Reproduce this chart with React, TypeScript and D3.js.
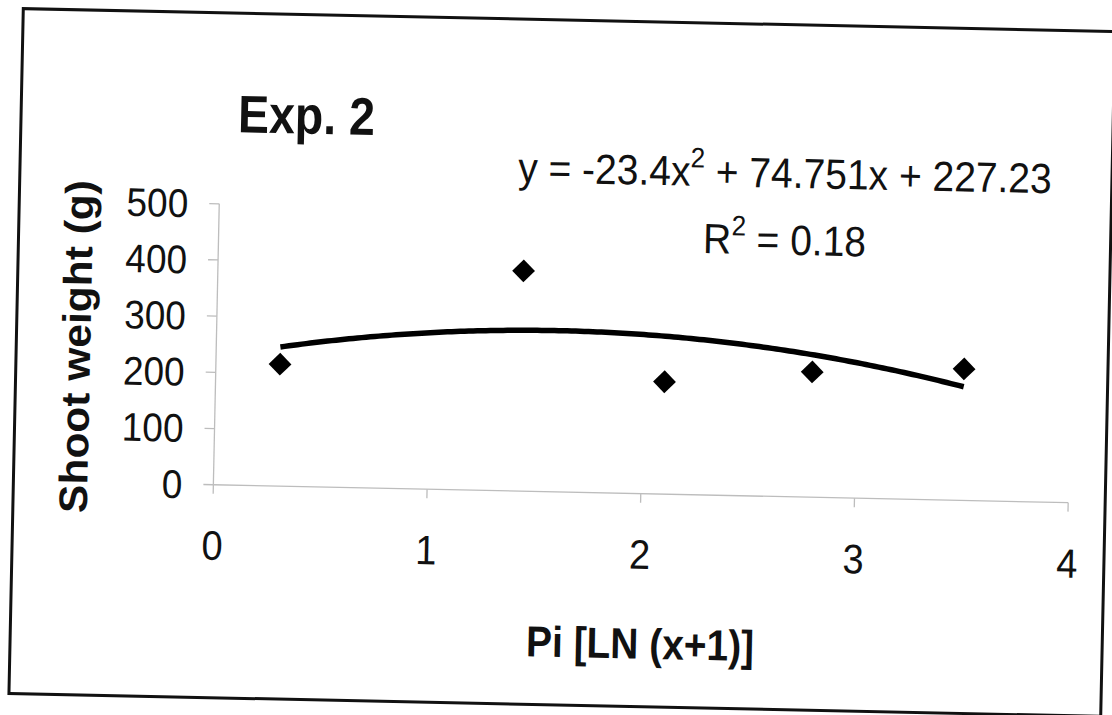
import React from "react";
import * as d3 from "d3";

// ---- data ----
const xValues = [0.3, 1.43, 2.1, 2.79, 3.5];
const yValues = [217, 392, 200, 223, 234];
const xTicks = [0, 1, 2, 3, 4];
const yTicks = [0, 100, 200, 300, 400, 500];
const trendA = -23.4;
const trendB = 74.751;
const trendC = 227.23;
const rSquared = "0.18";
const titleText = "Exp. 2";
const yTitle = "Shoot weight (g)";
const xTitle = "Pi [LN (x+1)]";

const W = 1112;
const H = 715;
const FONT = "'Liberation Sans', Arial, Helvetica, sans-serif";
const SY = 1.08; // scanned text looks slightly taller than wide

function T(props: any) {
  const { x, y, rot, children, ...rest } = props;
  const r = rot ? ` rotate(${rot})` : "";
  return (
    <text transform={`translate(${x},${y})${r} scale(1,${SY})`} fill="#111" {...rest}>
      {children}
    </text>
  );
}

export default function App() {
  const x = d3.scaleLinear().domain([0, 4]).range([216, 1071]);
  const y = d3.scaleLinear().domain([0, 500]).range([492, 211]);

  const pts = xValues.map((v, i) => ({ x: v, y: yValues[i] }));
  const xMin = d3.min(xValues) as number;
  const xMax = d3.max(xValues) as number;
  const trendX = d3.range(0, 161).map((i) => xMin + ((xMax - xMin) * i) / 160);
  const trend = trendX.map((t) => ({ x: t, y: trendA * t * t + trendB * t + trendC }));
  const line = d3
    .line<{ x: number; y: number }>()
    .x((d) => x(d.x))
    .y((d) => y(d.y));
  const diamond = d3.symbol().type(d3.symbolSquare).size(260)() as string;

  const axisColor = "#bdbdbd";

  return (
    <svg
      width={W}
      height={H}
      style={{ position: "absolute", left: 0, top: 0, background: "#fff" }}
      fontFamily={FONT}
    >
      <rect x={0} y={0} width={W} height={H} fill="#fff" />
      <g transform="rotate(1.2, 562, 362.5)">
        {/* outer frame */}
        <rect x={16} y={20} width={1092} height={685} fill="#fff" stroke="#111" strokeWidth={3} />

        {/* axes */}
        <line x1={x(0)} x2={x(4)} y1={y(0)} y2={y(0)} stroke={axisColor} strokeWidth={1.3} />
        <line x1={x(0)} x2={x(0)} y1={y(0)} y2={y(500)} stroke={axisColor} strokeWidth={1.3} />
        {yTicks.map((t) => (
          <g key={"yt" + t}>
            <line x1={x(0) - 10} x2={x(0)} y1={y(t)} y2={y(t)} stroke={axisColor} strokeWidth={1.3} />
            <T x={185} y={y(t) + 14} textAnchor="end" fontSize={37}>
              {t}
            </T>
          </g>
        ))}
        {xTicks.map((t) => (
          <g key={"xt" + t}>
            <line x1={x(t)} x2={x(t)} y1={y(0)} y2={y(0) + 9} stroke={axisColor} strokeWidth={1.3} />
            <T x={x(t)} y={567} textAnchor="middle" fontSize={38}>
              {t}
            </T>
          </g>
        ))}

        {/* trendline */}
        <path d={line(trend) as string} fill="none" stroke="#000" strokeWidth={5.5} strokeLinejoin="round" />

        {/* points */}
        {pts.map((p, i) => (
          <path
            key={"p" + i}
            d={diamond}
            transform={`translate(${x(p.x)},${y(p.y)}) rotate(45)`}
            fill="#000"
          />
        ))}

        {/* titles */}
        <T x={233} y={139} fontSize={49} fontWeight="bold" textLength={137} lengthAdjust="spacingAndGlyphs">
          {titleText}
        </T>
        <text
          transform="translate(90, 356.6) rotate(-90) scale(1,1.05)"
          textAnchor="middle"
          fontSize={38}
          fontWeight="bold"
          fill="#111"
          textLength={333}
          lengthAdjust="spacingAndGlyphs"
        >
          {yTitle}
        </text>
        <T x={646} y={657} textAnchor="middle" fontSize={40} fontWeight="bold" textLength={228} lengthAdjust="spacingAndGlyphs">
          {xTitle}
        </T>

        {/* equation */}
        <T x={781} y={183} textAnchor="middle" fontSize={39}>
          {"y = " + trendA + "x"}
          <tspan fontSize={26} dy={-17}>2</tspan>
          <tspan dy={17}>{" + " + trendB + "x + " + trendC}</tspan>
        </T>
        <T x={782} y={250} textAnchor="middle" fontSize={39}>
          R<tspan fontSize={26} dy={-17}>2</tspan>
          <tspan dy={17}>{" = " + rSquared}</tspan>
        </T>
      </g>
    </svg>
  );
}
